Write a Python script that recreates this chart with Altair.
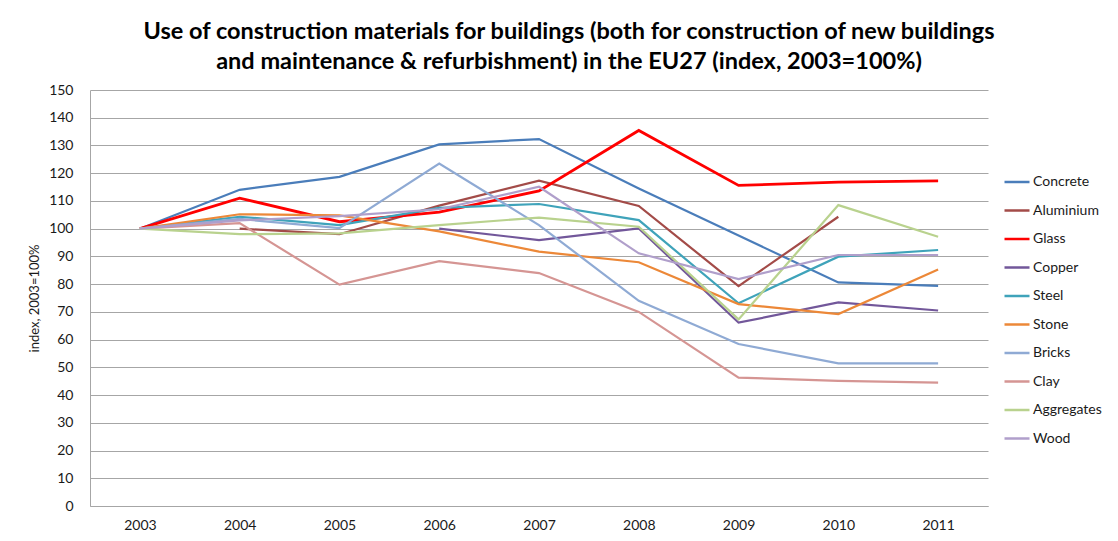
import altair as alt
import pandas as pd

years = ["2003", "2004", "2005", "2006", "2007", "2008", "2009", "2010", "2011"]
materials = ["Concrete", "Aluminium", "Glass", "Copper", "Steel", "Stone",
             "Bricks", "Clay", "Aggregates", "Wood"]
colors = ["#4A7DBA", "#A34B48", "#FF0000", "#72579A", "#3FA3BA", "#EC8838",
          "#8FAAD4", "#D59593", "#B9D28E", "#B09FCB"]

concrete = [100, 114, 118.7, 130.4, 132.3, 114.5, 97.5, 80.6, 79.4]
aluminium = [None, 100, 98, 108.3, 117.3, 108.2, 79.3, 104.3, None]
glass = [100, 111, 102.5, 106, 113.6, 135.4, 115.6, 116.8, 117.2]
copper = [None, None, None, 100, 95.9, 100.1, 66.1, 73.4, 70.5]
steel = [100, 104.3, 101.3, 107.5, 108.9, 103.1, 73.1, 89.9, 92.3]
stone = [100, 105.2, 104.8, 99, 91.7, 87.9, 72.8, 69.2, 85.3]
bricks = [100, 103.5, 100.2, 123.5, 101.3, 74, 58.4, 51.4, 51.4]
clay = [100, 102, 79.8, 88.3, 84, 70, 46.3, 45.1, 44.5]
aggregates = [100, 98, 98.3, 101.3, 104, 100.7, 67.3, 108.5, 97.1]
wood = [100, 103, 104.5, 107, 115.1, 91.1, 81.8, 90.5, 90.5]

series = [concrete, aluminium, glass, copper, steel, stone, bricks, clay, aggregates, wood]

rows = []
for m, vals in zip(materials, series):
    for y, v in zip(years, vals):
        if v is not None:
            rows.append({"year": y, "material": m, "value": v})
df = pd.DataFrame(rows)

title_lines = [
    "Use of construction materials for buildings (both for construction of new  buildings",
    "and maintenance & refurbishment) in the EU27 (index, 2003=100%)",
]

chart = alt.Chart(df).mark_line().encode(
    x=alt.X("year:O", sort=years,
            scale=alt.Scale(type="point", domain=years, padding=0.5),
            axis=alt.Axis(title=None, labelAngle=0, ticks=False, domain=True,
                          domainColor="#A6A6A6", labelPadding=12, labelFontSize=14,
                          labelColor="#1a1a1a", grid=False)),
    y=alt.Y("value:Q", scale=alt.Scale(domain=[0, 150], nice=False),
            axis=alt.Axis(title="index, 2003=100%", values=list(range(0, 151, 10)),
                          ticks=False, domainColor="#A6A6A6", gridColor="#A6A6A6",
                          gridWidth=1, labelPadding=17, labelFontSize=14,
                          labelColor="#1a1a1a", titleFontSize=13, titleFontWeight="normal",
                          titleColor="#1a1a1a", titlePadding=7)),
    color=alt.Color("material:N", scale=alt.Scale(domain=materials, range=colors),
                    legend=alt.Legend(title=None, orient="none", legendX=913, legendY=78,
                                      symbolType="stroke", symbolSize=625,
                                      symbolStrokeWidth=2.5, labelFontSize=14,
                                      labelColor="#1a1a1a", labelOffset=2,
                                      rowPadding=7.5)),
    strokeWidth=alt.condition(alt.datum.material == "Glass", alt.value(2.8), alt.value(2.2)),
    order=alt.Order("year:O"),
).properties(
    width=898,
    height=416,
    padding={"left": 82, "top": 82, "right": 120, "bottom": 25},
    autosize=alt.AutoSizeParams(type="none"),
    title=alt.TitleParams(text=title_lines, fontSize=23.5, fontWeight="bold",
                          anchor="middle", dx=30, offset=10, lineHeight=30,
                          color="#000000"),
).configure(
    font="Lato",
).configure_view(stroke=None)

chart.save("out.html", embed_options={"renderer": "svg", "actions": False})
